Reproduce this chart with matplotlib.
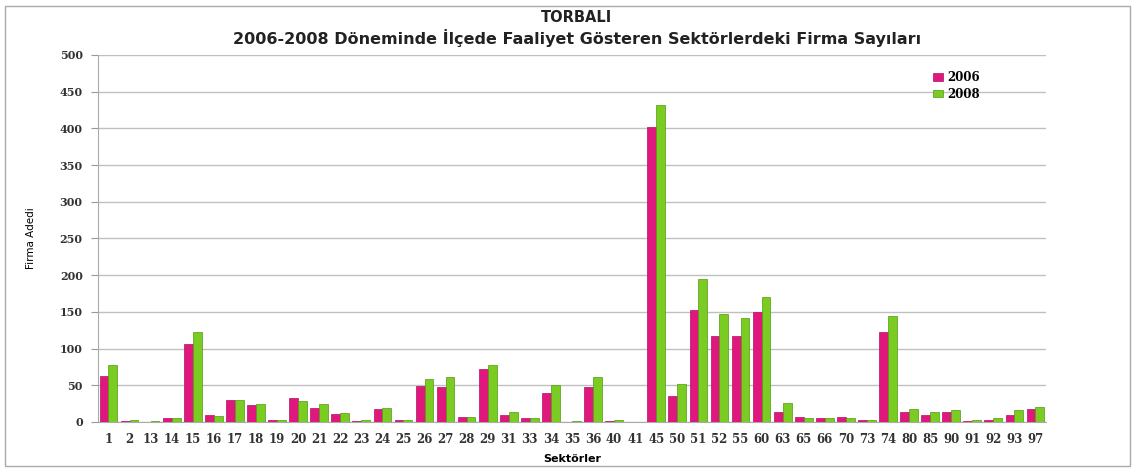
import numpy as np
import matplotlib.pyplot as plt
from matplotlib.patches import Rectangle

sectors = ['1', '2', '13', '14', '15', '16', '17', '18', '19', '20', '21', '22', '23',
           '24', '25', '26', '27', '28', '29', '31', '33', '34', '35', '36', '40', '41',
           '45', '50', '51', '52', '55', '60', '63', '65', '66', '70', '73', '74', '80',
           '85', '90', '91', '92', '93', '97']
y2006 = [62, 2, 0, 5, 106, 9, 30, 23, 3, 33, 19, 11, 2, 17, 3, 49, 48, 7, 72, 10, 5,
         40, 0, 48, 2, 0, 402, 36, 152, 117, 117, 150, 14, 7, 5, 7, 3, 122, 13, 9, 13,
         1, 3, 10, 17]
y2008 = [78, 3, 1, 6, 123, 8, 30, 25, 3, 29, 24, 12, 3, 19, 3, 59, 61, 7, 78, 14, 5,
         50, 2, 61, 3, 0, 432, 52, 195, 147, 142, 170, 26, 6, 6, 6, 3, 144, 17, 14, 16,
         3, 6, 16, 20]

pink = '#E0177C'
green = '#7ACC22'

fig = plt.figure(figsize=(11.35, 4.72), dpi=100)
ax = fig.add_axes([0.0863, 0.106, 0.8353, 0.7775])

x = np.arange(len(sectors))
w = 0.42
ax.bar(x - w/2, y2006, w, color=pink, edgecolor='#B0105E', linewidth=0.5, label='2006', zorder=3)
ax.bar(x + w/2, y2008, w, color=green, edgecolor='#4F9A10', linewidth=0.5, label='2008', zorder=3)

ax.set_xlim(-0.5, len(sectors) - 0.5)
ax.set_ylim(0, 500)
ax.set_yticks(range(0, 501, 50))
ax.set_xticks(x, sectors)
ax.tick_params(axis='x', length=0, labelsize=8.5, pad=8)
ax.tick_params(axis='y', length=5, color='#999999', labelsize=8, pad=6)
for lab in ax.get_xticklabels() + ax.get_yticklabels():
    lab.set_fontweight('bold')
    lab.set_family('DejaVu Serif')
    lab.set_color('#333333')
ax.grid(axis='y', color='#C0C0C0', linewidth=1, zorder=0)
for s in ['top', 'right']:
    ax.spines[s].set_visible(False)
ax.spines['bottom'].set_color('#AAAAAA')
ax.spines['left'].set_color('#AAAAAA')

ax.set_ylabel('Firma Adedi', fontsize=7.5, labelpad=17)
ax.set_xlabel('Sektörler', fontsize=8, fontweight='bold', labelpad=6)

fig.text(0.508, 0.962, 'TORBALI', ha='center', va='center', fontsize=10.5, fontweight='bold', color='#222222')
fig.text(0.508, 0.92, '2006-2008 Döneminde İlçede Faaliyet Gösteren Sektörlerdeki Firma Sayıları',
         ha='center', va='center', fontsize=11.5, fontweight='bold', color='#222222')

leg = ax.legend(loc='upper left', bbox_to_anchor=(0.87, 0.985), frameon=False,
                handlelength=0.8, handleheight=0.6, handletextpad=0.4,
                labelspacing=0.3, prop={'family': 'DejaVu Serif', 'weight': 'bold', 'size': 8.5})

fig.patches.append(Rectangle((0.004, 0.012), 0.992, 0.976, transform=fig.transFigure,
                             fill=False, edgecolor='#AAAAAA', linewidth=1))

fig.savefig('out.png', dpi=100)
